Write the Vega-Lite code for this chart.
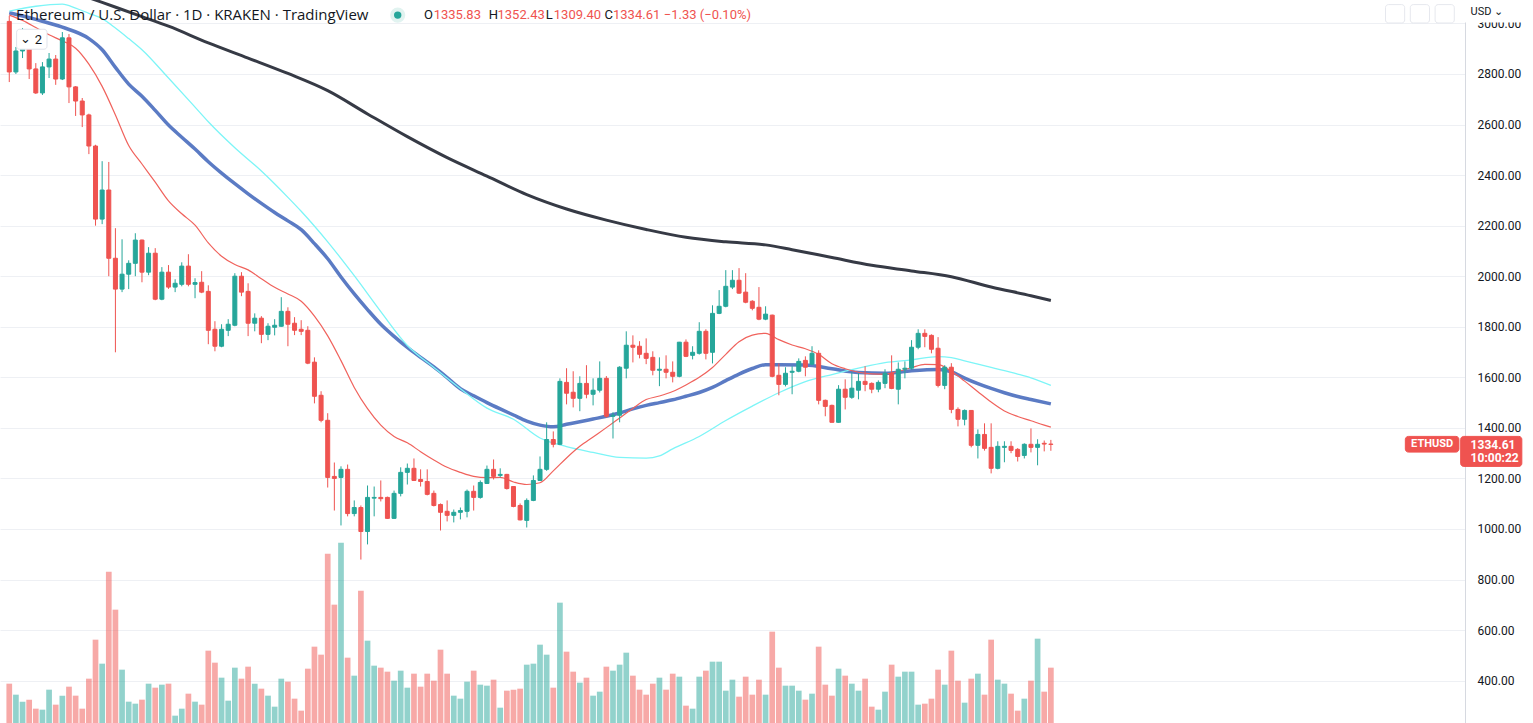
{
"$schema":"https://vega.github.io/schema/vega-lite/v6.json",
"width":1465,"height":723,
"autosize":{"type":"none"},
"padding":{"left":0,"top":0,"right":68,"bottom":0},
"background":"#ffffff",
"config":{"view":{"stroke":null},"text":{"font":"Roboto"}},
"datasets":{
"candles":[
{"d":"2022-04-26","o":3008,"h":3030,"l":2768,"c":2808,"v":11800},
{"d":"2022-04-27","o":2808,"h":2907,"l":2800,"c":2891,"v":8500},
{"d":"2022-04-28","o":2891,"h":2982,"l":2863,"c":2939,"v":6400},
{"d":"2022-04-29","o":2939,"h":2945,"l":2780,"c":2820,"v":7000},
{"d":"2022-04-30","o":2820,"h":2843,"l":2721,"c":2725,"v":4300},
{"d":"2022-05-01","o":2725,"h":2847,"l":2717,"c":2828,"v":4000},
{"d":"2022-05-02","o":2828,"h":2883,"l":2784,"c":2859,"v":10000},
{"d":"2022-05-03","o":2859,"h":2875,"l":2757,"c":2780,"v":5500},
{"d":"2022-05-04","o":2780,"h":2966,"l":2776,"c":2943,"v":8200},
{"d":"2022-05-05","o":2943,"h":2958,"l":2685,"c":2749,"v":10900},
{"d":"2022-05-06","o":2749,"h":2752,"l":2634,"c":2693,"v":8200},
{"d":"2022-05-07","o":2693,"h":2705,"l":2590,"c":2638,"v":4300},
{"d":"2022-05-08","o":2638,"h":2643,"l":2483,"c":2515,"v":13300},
{"d":"2022-05-09","o":2515,"h":2520,"l":2200,"c":2226,"v":25000},
{"d":"2022-05-10","o":2226,"h":2455,"l":2206,"c":2341,"v":17800},
{"d":"2022-05-11","o":2341,"h":2452,"l":2000,"c":2071,"v":45400},
{"d":"2022-05-12","o":2071,"h":2190,"l":1699,"c":1949,"v":34000},
{"d":"2022-05-13","o":1949,"h":2146,"l":1937,"c":2008,"v":16000},
{"d":"2022-05-14","o":2008,"h":2063,"l":1949,"c":2051,"v":6400},
{"d":"2022-05-15","o":2051,"h":2170,"l":2000,"c":2143,"v":5800},
{"d":"2022-05-16","o":2143,"h":2145,"l":1976,"c":2016,"v":7000},
{"d":"2022-05-17","o":2016,"h":2115,"l":2004,"c":2091,"v":11800},
{"d":"2022-05-18","o":2091,"h":2111,"l":1905,"c":1909,"v":10600},
{"d":"2022-05-19","o":1909,"h":2036,"l":1905,"c":2016,"v":11500},
{"d":"2022-05-20","o":2016,"h":2044,"l":1950,"c":1957,"v":11800},
{"d":"2022-05-21","o":1957,"h":1988,"l":1937,"c":1972,"v":2200},
{"d":"2022-05-22","o":1968,"h":2055,"l":1960,"c":2040,"v":4300},
{"d":"2022-05-23","o":2040,"h":2087,"l":1960,"c":1968,"v":8800},
{"d":"2022-05-24","o":1968,"h":1992,"l":1913,"c":1975,"v":6400},
{"d":"2022-05-25","o":1976,"h":2020,"l":1933,"c":1937,"v":5500},
{"d":"2022-05-26","o":1940,"h":1964,"l":1731,"c":1786,"v":21700},
{"d":"2022-05-27","o":1790,"h":1822,"l":1703,"c":1723,"v":18100},
{"d":"2022-05-28","o":1723,"h":1810,"l":1719,"c":1790,"v":13600},
{"d":"2022-05-29","o":1786,"h":1830,"l":1763,"c":1810,"v":6700},
{"d":"2022-05-30","o":1806,"h":2012,"l":1802,"c":2000,"v":16600},
{"d":"2022-05-31","o":2000,"h":2016,"l":1921,"c":1937,"v":13300},
{"d":"2022-06-01","o":1940,"h":1972,"l":1763,"c":1814,"v":16900},
{"d":"2022-06-02","o":1814,"h":1853,"l":1782,"c":1834,"v":11800},
{"d":"2022-06-03","o":1834,"h":1842,"l":1735,"c":1770,"v":10300},
{"d":"2022-06-04","o":1770,"h":1814,"l":1747,"c":1802,"v":8200},
{"d":"2022-06-05","o":1798,"h":1830,"l":1766,"c":1806,"v":4900},
{"d":"2022-06-06","o":1802,"h":1917,"l":1800,"c":1861,"v":13300},
{"d":"2022-06-07","o":1861,"h":1877,"l":1723,"c":1810,"v":12400},
{"d":"2022-06-08","o":1814,"h":1838,"l":1767,"c":1786,"v":7300},
{"d":"2022-06-09","o":1790,"h":1826,"l":1767,"c":1782,"v":3700},
{"d":"2022-06-10","o":1786,"h":1802,"l":1652,"c":1656,"v":16300},
{"d":"2022-06-11","o":1660,"h":1679,"l":1497,"c":1525,"v":22900},
{"d":"2022-06-12","o":1529,"h":1545,"l":1422,"c":1430,"v":20500},
{"d":"2022-06-13","o":1430,"h":1458,"l":1164,"c":1204,"v":50800},
{"d":"2022-06-14","o":1208,"h":1263,"l":1073,"c":1200,"v":35500},
{"d":"2022-06-15","o":1204,"h":1248,"l":1014,"c":1236,"v":54100},
{"d":"2022-06-16","o":1236,"h":1255,"l":1050,"c":1061,"v":19600},
{"d":"2022-06-17","o":1061,"h":1113,"l":1050,"c":1085,"v":14200},
{"d":"2022-06-18","o":1085,"h":1093,"l":879,"c":990,"v":39700},
{"d":"2022-06-19","o":990,"h":1172,"l":939,"c":1125,"v":24700},
{"d":"2022-06-20","o":1122,"h":1168,"l":1050,"c":1125,"v":17200},
{"d":"2022-06-21","o":1125,"h":1192,"l":1109,"c":1120,"v":16600},
{"d":"2022-06-22","o":1125,"h":1128,"l":1040,"c":1042,"v":15400},
{"d":"2022-06-23","o":1042,"h":1152,"l":1040,"c":1141,"v":12700},
{"d":"2022-06-24","o":1141,"h":1244,"l":1129,"c":1224,"v":15700},
{"d":"2022-06-25","o":1224,"h":1259,"l":1176,"c":1240,"v":10600},
{"d":"2022-06-26","o":1240,"h":1279,"l":1190,"c":1192,"v":14800},
{"d":"2022-06-27","o":1196,"h":1236,"l":1168,"c":1188,"v":10900},
{"d":"2022-06-28","o":1188,"h":1236,"l":1133,"c":1137,"v":14800},
{"d":"2022-06-29","o":1141,"h":1152,"l":1089,"c":1093,"v":12700},
{"d":"2022-06-30","o":1097,"h":1101,"l":994,"c":1066,"v":22000},
{"d":"2022-07-01","o":1070,"h":1113,"l":1030,"c":1054,"v":14800},
{"d":"2022-07-02","o":1054,"h":1077,"l":1026,"c":1066,"v":8200},
{"d":"2022-07-03","o":1066,"h":1085,"l":1038,"c":1073,"v":7300},
{"d":"2022-07-04","o":1070,"h":1156,"l":1046,"c":1149,"v":12400},
{"d":"2022-07-05","o":1149,"h":1172,"l":1073,"c":1125,"v":15700},
{"d":"2022-07-06","o":1125,"h":1192,"l":1120,"c":1184,"v":11500},
{"d":"2022-07-07","o":1180,"h":1251,"l":1178,"c":1236,"v":11200},
{"d":"2022-07-08","o":1236,"h":1275,"l":1196,"c":1208,"v":13000},
{"d":"2022-07-09","o":1212,"h":1240,"l":1204,"c":1216,"v":4600},
{"d":"2022-07-10","o":1216,"h":1218,"l":1156,"c":1160,"v":9700},
{"d":"2022-07-11","o":1168,"h":1170,"l":1086,"c":1089,"v":10000},
{"d":"2022-07-12","o":1093,"h":1101,"l":1034,"c":1036,"v":10300},
{"d":"2022-07-13","o":1034,"h":1121,"l":1006,"c":1113,"v":17500},
{"d":"2022-07-14","o":1113,"h":1212,"l":1110,"c":1192,"v":17800},
{"d":"2022-07-15","o":1192,"h":1287,"l":1190,"c":1236,"v":23500},
{"d":"2022-07-16","o":1236,"h":1422,"l":1230,"c":1354,"v":20500},
{"d":"2022-07-17","o":1354,"h":1386,"l":1323,"c":1335,"v":10600},
{"d":"2022-07-18","o":1335,"h":1596,"l":1332,"c":1584,"v":36100},
{"d":"2022-07-19","o":1580,"h":1636,"l":1493,"c":1537,"v":21400},
{"d":"2022-07-20","o":1541,"h":1624,"l":1481,"c":1517,"v":15400},
{"d":"2022-07-21","o":1517,"h":1604,"l":1466,"c":1576,"v":12100},
{"d":"2022-07-22","o":1576,"h":1648,"l":1517,"c":1533,"v":13600},
{"d":"2022-07-23","o":1533,"h":1596,"l":1489,"c":1549,"v":8200},
{"d":"2022-07-24","o":1549,"h":1663,"l":1540,"c":1596,"v":9400},
{"d":"2022-07-25","o":1596,"h":1605,"l":1440,"c":1446,"v":16900},
{"d":"2022-07-26","o":1446,"h":1462,"l":1358,"c":1450,"v":15700},
{"d":"2022-07-27","o":1450,"h":1644,"l":1422,"c":1640,"v":17500},
{"d":"2022-07-28","o":1636,"h":1782,"l":1596,"c":1727,"v":21100},
{"d":"2022-07-29","o":1727,"h":1766,"l":1659,"c":1719,"v":14200},
{"d":"2022-07-30","o":1723,"h":1743,"l":1675,"c":1691,"v":10000},
{"d":"2022-07-31","o":1695,"h":1754,"l":1652,"c":1675,"v":8500},
{"d":"2022-08-01","o":1679,"h":1703,"l":1608,"c":1628,"v":11800},
{"d":"2022-08-02","o":1628,"h":1679,"l":1565,"c":1632,"v":13600},
{"d":"2022-08-03","o":1632,"h":1687,"l":1596,"c":1620,"v":10000},
{"d":"2022-08-04","o":1620,"h":1663,"l":1580,"c":1604,"v":14800},
{"d":"2022-08-05","o":1604,"h":1740,"l":1600,"c":1739,"v":13900},
{"d":"2022-08-06","o":1739,"h":1750,"l":1680,"c":1683,"v":5200},
{"d":"2022-08-07","o":1687,"h":1723,"l":1671,"c":1699,"v":4300},
{"d":"2022-08-08","o":1695,"h":1818,"l":1690,"c":1782,"v":13900},
{"d":"2022-08-09","o":1782,"h":1790,"l":1671,"c":1695,"v":15700},
{"d":"2022-08-10","o":1699,"h":1885,"l":1655,"c":1853,"v":18400},
{"d":"2022-08-11","o":1853,"h":1945,"l":1850,"c":1881,"v":18400},
{"d":"2022-08-12","o":1881,"h":2024,"l":1877,"c":1960,"v":9700},
{"d":"2022-08-13","o":1957,"h":2024,"l":1949,"c":1984,"v":13000},
{"d":"2022-08-14","o":1984,"h":2032,"l":1930,"c":1933,"v":7900},
{"d":"2022-08-15","o":1937,"h":2012,"l":1893,"c":1897,"v":13900},
{"d":"2022-08-16","o":1901,"h":1905,"l":1865,"c":1873,"v":8500},
{"d":"2022-08-17","o":1877,"h":1957,"l":1826,"c":1830,"v":13000},
{"d":"2022-08-18","o":1830,"h":1881,"l":1826,"c":1850,"v":8500},
{"d":"2022-08-19","o":1846,"h":1848,"l":1600,"c":1604,"v":27400},
{"d":"2022-08-20","o":1608,"h":1655,"l":1529,"c":1572,"v":16600},
{"d":"2022-08-21","o":1572,"h":1640,"l":1564,"c":1616,"v":11200},
{"d":"2022-08-22","o":1620,"h":1644,"l":1533,"c":1624,"v":11200},
{"d":"2022-08-23","o":1624,"h":1675,"l":1620,"c":1663,"v":9700},
{"d":"2022-08-24","o":1667,"h":1683,"l":1604,"c":1640,"v":7000},
{"d":"2022-08-25","o":1652,"h":1723,"l":1648,"c":1695,"v":8800},
{"d":"2022-08-26","o":1695,"h":1707,"l":1493,"c":1509,"v":22900},
{"d":"2022-08-27","o":1509,"h":1512,"l":1446,"c":1485,"v":11500},
{"d":"2022-08-28","o":1489,"h":1492,"l":1422,"c":1422,"v":8200},
{"d":"2022-08-29","o":1422,"h":1569,"l":1420,"c":1553,"v":16300},
{"d":"2022-08-30","o":1553,"h":1592,"l":1473,"c":1521,"v":14200},
{"d":"2022-08-31","o":1521,"h":1620,"l":1515,"c":1557,"v":11800},
{"d":"2022-09-01","o":1549,"h":1616,"l":1513,"c":1584,"v":9700},
{"d":"2022-09-02","o":1584,"h":1644,"l":1545,"c":1572,"v":13300},
{"d":"2022-09-03","o":1576,"h":1580,"l":1537,"c":1553,"v":4900},
{"d":"2022-09-04","o":1553,"h":1588,"l":1541,"c":1580,"v":4000},
{"d":"2022-09-05","o":1576,"h":1632,"l":1557,"c":1616,"v":9400},
{"d":"2022-09-06","o":1616,"h":1687,"l":1553,"c":1556,"v":17500},
{"d":"2022-09-07","o":1553,"h":1659,"l":1493,"c":1632,"v":13900},
{"d":"2022-09-08","o":1632,"h":1663,"l":1596,"c":1636,"v":15400},
{"d":"2022-09-09","o":1636,"h":1747,"l":1630,"c":1719,"v":15400},
{"d":"2022-09-10","o":1719,"h":1790,"l":1711,"c":1774,"v":5500},
{"d":"2022-09-11","o":1774,"h":1790,"l":1719,"c":1762,"v":5800},
{"d":"2022-09-12","o":1766,"h":1770,"l":1695,"c":1711,"v":7300},
{"d":"2022-09-13","o":1715,"h":1759,"l":1560,"c":1568,"v":16000},
{"d":"2022-09-14","o":1568,"h":1648,"l":1553,"c":1640,"v":11500},
{"d":"2022-09-15","o":1640,"h":1656,"l":1458,"c":1473,"v":21700},
{"d":"2022-09-16","o":1473,"h":1481,"l":1406,"c":1434,"v":12700},
{"d":"2022-09-17","o":1434,"h":1473,"l":1410,"c":1469,"v":6100},
{"d":"2022-09-18","o":1469,"h":1470,"l":1323,"c":1331,"v":13300},
{"d":"2022-09-19","o":1331,"h":1394,"l":1279,"c":1374,"v":14800},
{"d":"2022-09-20","o":1374,"h":1418,"l":1310,"c":1319,"v":8500},
{"d":"2022-09-21","o":1323,"h":1418,"l":1220,"c":1240,"v":25000},
{"d":"2022-09-22","o":1240,"h":1347,"l":1236,"c":1327,"v":13000},
{"d":"2022-09-23","o":1323,"h":1347,"l":1264,"c":1327,"v":11800},
{"d":"2022-09-24","o":1327,"h":1347,"l":1300,"c":1311,"v":8800},
{"d":"2022-09-25","o":1315,"h":1320,"l":1267,"c":1287,"v":3700},
{"d":"2022-09-26","o":1291,"h":1339,"l":1279,"c":1335,"v":7300},
{"d":"2022-09-27","o":1335,"h":1398,"l":1303,"c":1323,"v":12700},
{"d":"2022-09-28","o":1323,"h":1355,"l":1252,"c":1335,"v":25300},
{"d":"2022-09-29","o":1339,"h":1350,"l":1307,"c":1336,"v":9400},
{"d":"2022-09-30","o":1335.83,"h":1352.43,"l":1309.40,"c":1334.61,"v":16600}
],
"ma200":[
{"d":"2022-04-26","p":3211},{"d":"2022-05-04","p":3139},{"d":"2022-05-10","p":3083},{"d":"2022-05-16","p":3027},{"d":"2022-05-20","p":2989},{"d":"2022-05-26","p":2923},{"d":"2022-06-01","p":2863},{"d":"2022-06-07","p":2802},{"d":"2022-06-13","p":2734},{"d":"2022-06-19","p":2642},{"d":"2022-06-25","p":2552},{"d":"2022-07-01","p":2469},{"d":"2022-07-07","p":2396},{"d":"2022-07-13","p":2323},{"d":"2022-07-19","p":2266},{"d":"2022-07-25","p":2222},{"d":"2022-07-31","p":2185},{"d":"2022-08-06","p":2154},{"d":"2022-08-12","p":2136},{"d":"2022-08-18","p":2124},{"d":"2022-08-22","p":2105},{"d":"2022-08-28","p":2074},{"d":"2022-09-03","p":2043},{"d":"2022-09-09","p":2021},{"d":"2022-09-15","p":1998},{"d":"2022-09-21","p":1957},{"d":"2022-09-27","p":1923},{"d":"2022-09-30","p":1904}
],
"ma50":[
{"d":"2022-04-26","p":3042},{"d":"2022-04-30","p":3016},{"d":"2022-05-04","p":2985},{"d":"2022-05-08","p":2940},{"d":"2022-05-10","p":2896},{"d":"2022-05-12","p":2826},{"d":"2022-05-14","p":2760},{"d":"2022-05-16","p":2712},{"d":"2022-05-18","p":2656},{"d":"2022-05-20","p":2598},{"d":"2022-05-22","p":2550},{"d":"2022-05-24","p":2503},{"d":"2022-05-26","p":2453},{"d":"2022-05-28","p":2408},{"d":"2022-05-30","p":2366},{"d":"2022-06-01","p":2326},{"d":"2022-06-03","p":2288},{"d":"2022-06-05","p":2252},{"d":"2022-06-07","p":2219},{"d":"2022-06-09","p":2184},{"d":"2022-06-11","p":2129},{"d":"2022-06-13","p":2069},{"d":"2022-06-15","p":1997},{"d":"2022-06-17","p":1930},{"d":"2022-06-19","p":1868},{"d":"2022-06-21","p":1810},{"d":"2022-06-23","p":1762},{"d":"2022-06-25","p":1718},{"d":"2022-06-27","p":1679},{"d":"2022-06-29","p":1641},{"d":"2022-07-01","p":1599},{"d":"2022-07-03","p":1555},{"d":"2022-07-05","p":1527},{"d":"2022-07-07","p":1500},{"d":"2022-07-09","p":1475},{"d":"2022-07-11","p":1451},{"d":"2022-07-13","p":1427},{"d":"2022-07-15","p":1411},{"d":"2022-07-17","p":1404},{"d":"2022-07-19","p":1414},{"d":"2022-07-21","p":1424},{"d":"2022-07-23","p":1435},{"d":"2022-07-25","p":1446},{"d":"2022-07-27","p":1459},{"d":"2022-07-29","p":1475},{"d":"2022-07-31","p":1489},{"d":"2022-08-02","p":1500},{"d":"2022-08-04","p":1511},{"d":"2022-08-06","p":1525},{"d":"2022-08-08","p":1540},{"d":"2022-08-10","p":1560},{"d":"2022-08-12","p":1587},{"d":"2022-08-14","p":1613},{"d":"2022-08-16","p":1635},{"d":"2022-08-18","p":1650},{"d":"2022-08-20","p":1650},{"d":"2022-08-24","p":1649},{"d":"2022-08-28","p":1634},{"d":"2022-09-01","p":1619},{"d":"2022-09-05","p":1616},{"d":"2022-09-09","p":1626},{"d":"2022-09-13","p":1631},{"d":"2022-09-15","p":1622},{"d":"2022-09-17","p":1597},{"d":"2022-09-19","p":1575},{"d":"2022-09-21","p":1556},{"d":"2022-09-23","p":1539},{"d":"2022-09-25","p":1524},{"d":"2022-09-27","p":1512},{"d":"2022-09-30","p":1495}
],
"ema":[
{"d":"2022-04-26","p":3049},{"d":"2022-04-30","p":3068},{"d":"2022-05-04","p":3076},{"d":"2022-05-06","p":3061},{"d":"2022-05-08","p":3040},{"d":"2022-05-10","p":3019},{"d":"2022-05-12","p":2982},{"d":"2022-05-14","p":2940},{"d":"2022-05-16","p":2896},{"d":"2022-05-20","p":2784},{"d":"2022-05-24","p":2669},{"d":"2022-05-26","p":2611},{"d":"2022-05-30","p":2508},{"d":"2022-06-03","p":2416},{"d":"2022-06-07","p":2312},{"d":"2022-06-09","p":2257},{"d":"2022-06-13","p":2136},{"d":"2022-06-17","p":2002},{"d":"2022-06-21","p":1860},{"d":"2022-06-25","p":1726},{"d":"2022-06-29","p":1639},{"d":"2022-07-03","p":1555},{"d":"2022-07-07","p":1478},{"d":"2022-07-11","p":1434},{"d":"2022-07-15","p":1360},{"d":"2022-07-19","p":1326},{"d":"2022-07-23","p":1303},{"d":"2022-07-27","p":1283},{"d":"2022-07-31","p":1280},{"d":"2022-08-02","p":1289},{"d":"2022-08-04","p":1317},{"d":"2022-08-08","p":1366},{"d":"2022-08-12","p":1429},{"d":"2022-08-16","p":1486},{"d":"2022-08-20","p":1539},{"d":"2022-08-24","p":1583},{"d":"2022-08-28","p":1611},{"d":"2022-09-01","p":1636},{"d":"2022-09-05","p":1658},{"d":"2022-09-09","p":1669},{"d":"2022-09-13","p":1682},{"d":"2022-09-15","p":1678},{"d":"2022-09-17","p":1665},{"d":"2022-09-21","p":1639},{"d":"2022-09-25","p":1613},{"d":"2022-09-27","p":1598},{"d":"2022-09-30","p":1568}
],
"ma20":[
{"d":"2022-04-26","p":3033},{"d":"2022-04-28","p":3012},{"d":"2022-04-30","p":2984},{"d":"2022-05-02","p":2955},{"d":"2022-05-04","p":2931},{"d":"2022-05-06","p":2902},{"d":"2022-05-08","p":2839},{"d":"2022-05-10","p":2751},{"d":"2022-05-12","p":2638},{"d":"2022-05-14","p":2517},{"d":"2022-05-16","p":2444},{"d":"2022-05-18","p":2372},{"d":"2022-05-20","p":2298},{"d":"2022-05-22","p":2247},{"d":"2022-05-24","p":2202},{"d":"2022-05-26","p":2132},{"d":"2022-05-28","p":2079},{"d":"2022-05-30","p":2046},{"d":"2022-06-01","p":2025},{"d":"2022-06-03","p":1990},{"d":"2022-06-05","p":1956},{"d":"2022-06-07","p":1930},{"d":"2022-06-09","p":1901},{"d":"2022-06-11","p":1842},{"d":"2022-06-13","p":1764},{"d":"2022-06-15","p":1666},{"d":"2022-06-17","p":1560},{"d":"2022-06-19","p":1476},{"d":"2022-06-21","p":1411},{"d":"2022-06-23","p":1366},{"d":"2022-06-25","p":1341},{"d":"2022-06-27","p":1306},{"d":"2022-06-29","p":1273},{"d":"2022-07-01","p":1244},{"d":"2022-07-03","p":1224},{"d":"2022-07-05","p":1208},{"d":"2022-07-07","p":1203},{"d":"2022-07-09","p":1204},{"d":"2022-07-11","p":1186},{"d":"2022-07-13","p":1176},{"d":"2022-07-15","p":1183},{"d":"2022-07-17","p":1230},{"d":"2022-07-19","p":1281},{"d":"2022-07-21","p":1327},{"d":"2022-07-23","p":1364},{"d":"2022-07-25","p":1401},{"d":"2022-07-27","p":1439},{"d":"2022-07-29","p":1477},{"d":"2022-07-31","p":1512},{"d":"2022-08-02","p":1526},{"d":"2022-08-04","p":1544},{"d":"2022-08-06","p":1570},{"d":"2022-08-08","p":1600},{"d":"2022-08-10","p":1639},{"d":"2022-08-12","p":1691},{"d":"2022-08-14","p":1741},{"d":"2022-08-16","p":1767},{"d":"2022-08-18","p":1774},{"d":"2022-08-20","p":1749},{"d":"2022-08-22","p":1728},{"d":"2022-08-24","p":1713},{"d":"2022-08-26","p":1691},{"d":"2022-08-28","p":1654},{"d":"2022-08-30","p":1634},{"d":"2022-09-01","p":1620},{"d":"2022-09-03","p":1614},{"d":"2022-09-05","p":1613},{"d":"2022-09-07","p":1624},{"d":"2022-09-09","p":1638},{"d":"2022-09-11","p":1651},{"d":"2022-09-13","p":1650},{"d":"2022-09-15","p":1624},{"d":"2022-09-17","p":1585},{"d":"2022-09-19","p":1543},{"d":"2022-09-21","p":1502},{"d":"2022-09-23","p":1467},{"d":"2022-09-25","p":1445},{"d":"2022-09-27","p":1428},{"d":"2022-09-29","p":1411},{"d":"2022-09-30","p":1403}
]
},
"layer":[
{
"data":{"name":"candles"},
"mark":{"type":"bar","width":5.7,"opacity":0.5},
"encoding":{
"x":{"field":"d","type":"temporal","title":null,
"scale":{"type":"utc","nice":false,"domain":[{"year":2022,"month":4,"date":25,"hours":8,"minutes":33,"utc":true},{"year":2022,"month":11,"date":30,"hours":16,"minutes":5,"utc":true}]},
"axis":{"values":[{"year":2022,"month":5,"date":1,"utc":true},{"year":2022,"month":5,"date":16,"utc":true},{"year":2022,"month":6,"date":1,"utc":true},{"year":2022,"month":6,"date":13,"utc":true},{"year":2022,"month":7,"date":1,"utc":true},{"year":2022,"month":7,"date":18,"utc":true},{"year":2022,"month":8,"date":1,"utc":true},{"year":2022,"month":8,"date":15,"utc":true},{"year":2022,"month":9,"date":1,"utc":true},{"year":2022,"month":9,"date":19,"utc":true},{"year":2022,"month":10,"date":1,"utc":true},{"year":2022,"month":10,"date":17,"utc":true},{"year":2022,"month":11,"date":1,"utc":true},{"year":2022,"month":11,"date":14,"utc":true}],
"labels":false,"ticks":false,"domain":false,"grid":true,"gridColor":"#eef0f4","gridWidth":1}},
"y":{"field":"v","type":"quantitative","scale":{"domain":[0,216900],"nice":false,"zero":true},"axis":null},
"color":{"condition":{"test":"datum.c < datum.o","value":"#ef5350"},"value":"#26a69a"}
}
},
{
"data":{"name":"ma200"},
"mark":{"type":"line","clip":true,"interpolate":"monotone","color":"#363a45","strokeWidth":3},
"encoding":{
"x":{"field":"d","type":"temporal","title":null,"axis":null,"scale":{"type":"utc","nice":false,"domain":[{"year":2022,"month":4,"date":25,"hours":8,"minutes":33,"utc":true},{"year":2022,"month":11,"date":30,"hours":16,"minutes":5,"utc":true}]}},
"y":{"field":"p","type":"quantitative","title":null,"scale":{"domain":[232.5,3092.7],"nice":false,"zero":false},
"axis":{"orient":"right","values":[400,600,800,1000,1200,1400,1600,1800,2000,2200,2400,2600,2800,3000],"format":".2f","grid":true,"gridColor":"#eef0f4","gridWidth":1,"ticks":false,"labelPadding":12,"labelFont":"Roboto","labelFontSize":12,"labelColor":"#131722","domainColor":"#d6d9e0","labelAlign":"left","labelBaseline":"middle","title":null}}
}
},
{
"data":{"name":"ma50"},
"mark":{"type":"line","clip":true,"interpolate":"monotone","color":"#5b7bc4","strokeWidth":3.5},
"encoding":{
"x":{"field":"d","type":"temporal","title":null,"axis":null,"scale":{"type":"utc","nice":false,"domain":[{"year":2022,"month":4,"date":25,"hours":8,"minutes":33,"utc":true},{"year":2022,"month":11,"date":30,"hours":16,"minutes":5,"utc":true}]}},
"y":{"field":"p","type":"quantitative","title":null,"axis":null,"scale":{"domain":[232.5,3092.7],"nice":false,"zero":false}}
}
},
{
"data":{"name":"ema"},
"mark":{"type":"line","clip":true,"interpolate":"monotone","color":"#7df5f7","strokeWidth":1.3},
"encoding":{
"x":{"field":"d","type":"temporal","title":null,"axis":null,"scale":{"type":"utc","nice":false,"domain":[{"year":2022,"month":4,"date":25,"hours":8,"minutes":33,"utc":true},{"year":2022,"month":11,"date":30,"hours":16,"minutes":5,"utc":true}]}},
"y":{"field":"p","type":"quantitative","title":null,"axis":null,"scale":{"domain":[232.5,3092.7],"nice":false,"zero":false}}
}
},
{
"data":{"name":"ma20"},
"mark":{"type":"line","clip":true,"interpolate":"monotone","color":"#f0625c","strokeWidth":1.2},
"encoding":{
"x":{"field":"d","type":"temporal","title":null,"axis":null,"scale":{"type":"utc","nice":false,"domain":[{"year":2022,"month":4,"date":25,"hours":8,"minutes":33,"utc":true},{"year":2022,"month":11,"date":30,"hours":16,"minutes":5,"utc":true}]}},
"y":{"field":"p","type":"quantitative","title":null,"axis":null,"scale":{"domain":[232.5,3092.7],"nice":false,"zero":false}}
}
},
{
"mark":{"type":"rule","color":"#ef5350","strokeDash":[1,2],"strokeWidth":1},
"encoding":{"y":{"datum":1334.61,"type":"quantitative","axis":null,"scale":{"domain":[232.5,3092.7],"nice":false,"zero":false}}}
},
{
"mark":{"type":"rule","color":"#dfe1e6","strokeWidth":2},
"encoding":{"x":{"datum":{"year":2022,"month":4,"date":25,"hours":8,"minutes":48,"utc":true},"type":"temporal","axis":null,"scale":{"type":"utc","nice":false,"domain":[{"year":2022,"month":4,"date":25,"hours":8,"minutes":33,"utc":true},{"year":2022,"month":11,"date":30,"hours":16,"minutes":5,"utc":true}]}}}
},
{
"data":{"name":"candles"},
"mark":{"type":"rule","strokeWidth":1},
"encoding":{
"x":{"field":"d","type":"temporal","title":null,"axis":null,"scale":{"type":"utc","nice":false,"domain":[{"year":2022,"month":4,"date":25,"hours":8,"minutes":33,"utc":true},{"year":2022,"month":11,"date":30,"hours":16,"minutes":5,"utc":true}]}},
"y":{"field":"l","type":"quantitative","title":null,"axis":null,"scale":{"domain":[232.5,3092.7],"nice":false,"zero":false}},
"y2":{"field":"h"},
"color":{"condition":{"test":"datum.c < datum.o","value":"#ef5350"},"value":"#26a69a"}
}
},
{
"data":{"name":"candles"},
"mark":{"type":"bar","width":4,"strokeWidth":1},
"encoding":{
"x":{"field":"d","type":"temporal","title":null,"axis":null,"scale":{"type":"utc","nice":false,"domain":[{"year":2022,"month":4,"date":25,"hours":8,"minutes":33,"utc":true},{"year":2022,"month":11,"date":30,"hours":16,"minutes":5,"utc":true}]}},
"y":{"field":"o","type":"quantitative","title":null,"axis":null,"scale":{"domain":[232.5,3092.7],"nice":false,"zero":false}},
"y2":{"field":"c"},
"fill":{"condition":{"test":"datum.c < datum.o","value":"#ef5350"},"value":"#26a69a"},
"stroke":{"condition":{"test":"datum.c < datum.o","value":"#ef5350"},"value":"#26a69a"}
}
},
{
"data":{"values":[
{"t":"2022-04-27T02:35:00Z","t2":"2022-05-01T16:32:00Z","p":2977,"p2":2898,"f":"#ffffff","s":"#e0e3eb"},
{"t":"2022-11-22T10:19:00Z","t2":"2022-11-30T12:14:00Z","p":1366.3,"p2":1304.2,"f":"#ef5350","s":"#ef5350"},
{"t":"2022-11-30T18:29:00Z","t2":"2022-12-09T23:46:00Z","p":1366.3,"p2":1247.6,"f":"#ef5350","s":"#ef5350"},
{"t":"2022-11-30T17:00:00Z","t2":"2022-12-12T00:00:00Z","p":3150,"p2":3005.7,"f":"#ffffff","s":"#ffffff"},
{"t":"2022-11-19T10:34:00Z","t2":"2022-11-22T07:55:00Z","p":3074.5,"p2":3001.8,"f":"#ffffff","s":"#e6e8ee"},
{"t":"2022-11-23T04:19:00Z","t2":"2022-11-26T01:41:00Z","p":3074.5,"p2":3001.8,"f":"#ffffff","s":"#e6e8ee"},
{"t":"2022-11-26T22:05:00Z","t2":"2022-11-29T19:26:00Z","p":3074.5,"p2":3001.8,"f":"#ffffff","s":"#e6e8ee"}
]},
"mark":{"type":"rect","cornerRadius":3,"strokeWidth":1,"clip":false},
"encoding":{
"x":{"field":"t","type":"temporal","title":null,"axis":null,"scale":{"type":"utc","nice":false,"domain":[{"year":2022,"month":4,"date":25,"hours":8,"minutes":33,"utc":true},{"year":2022,"month":11,"date":30,"hours":16,"minutes":5,"utc":true}]}},
"x2":{"field":"t2"},
"y":{"field":"p","type":"quantitative","title":null,"axis":null,"scale":{"domain":[232.5,3092.7],"nice":false,"zero":false}},
"y2":{"field":"p2"},
"fill":{"field":"f","type":"nominal","scale":null},
"stroke":{"field":"s","type":"nominal","scale":null}
}
},
{
"data":{"values":[
{"t":"2022-06-23T13:12:00Z","p":3033,"sz":230,"col":"#e1f3f0"},
{"t":"2022-06-23T13:12:00Z","p":3033,"sz":55,"col":"#26a69a"}
]},
"mark":{"type":"circle","opacity":1,"clip":false},
"encoding":{
"x":{"field":"t","type":"temporal","title":null,"axis":null,"scale":{"type":"utc","nice":false,"domain":[{"year":2022,"month":4,"date":25,"hours":8,"minutes":33,"utc":true},{"year":2022,"month":11,"date":30,"hours":16,"minutes":5,"utc":true}]}},
"y":{"field":"p","type":"quantitative","title":null,"axis":null,"scale":{"domain":[232.5,3092.7],"nice":false,"zero":false}},
"size":{"field":"sz","type":"quantitative","scale":null},
"color":{"field":"col","type":"nominal","scale":null}
}
},
{
"data":{"values":[
{"t":"2022-04-27T00:46:00Z","p":3033,"txt":"Ethereum / U.S. Dollar · 1D · KRAKEN · TradingView"}
]},
"mark":{"type":"text","baseline":"middle","align":"left","font":"Open Sans","fontSize":15,"color":"#131722","clip":false},
"encoding":{
"x":{"field":"t","type":"temporal","title":null,"axis":null,"scale":{"type":"utc","nice":false,"domain":[{"year":2022,"month":4,"date":25,"hours":8,"minutes":33,"utc":true},{"year":2022,"month":11,"date":30,"hours":16,"minutes":5,"utc":true}]}},
"y":{"field":"p","type":"quantitative","title":null,"axis":null,"scale":{"domain":[232.5,3092.7],"nice":false,"zero":false}},
"text":{"field":"txt"}
}
},
{
"data":{"values":[
{"t":"2022-06-27T12:14:00Z","p":3033,"txt":"O","col":"#131722","fs":13},
{"t":"2022-06-28T23:17:00Z","p":3033,"txt":"1335.83","col":"#ef5350","fs":13},
{"t":"2022-07-07T06:58:00Z","p":3033,"txt":"H","col":"#131722","fs":13},
{"t":"2022-07-08T14:10:00Z","p":3033,"txt":"1352.43","col":"#ef5350","fs":13},
{"t":"2022-07-15T20:24:00Z","p":3033,"txt":"L","col":"#131722","fs":13},
{"t":"2022-07-17T01:55:00Z","p":3033,"txt":"1309.40","col":"#ef5350","fs":13},
{"t":"2022-07-24T17:17:00Z","p":3033,"txt":"C","col":"#131722","fs":13},
{"t":"2022-07-26T00:00:00Z","p":3033,"txt":"1334.61","col":"#ef5350","fs":13},
{"t":"2022-08-02T15:36:00Z","p":3033,"txt":"−1.33 (−0.10%)","col":"#ef5350","fs":13},
{"t":"2022-12-02T06:29:00Z","p":3044,"txt":"USD ⌄","col":"#131722","fs":11}
]},
"mark":{"type":"text","baseline":"middle","align":"left","font":"Roboto","clip":false},
"encoding":{
"x":{"field":"t","type":"temporal","title":null,"axis":null,"scale":{"type":"utc","nice":false,"domain":[{"year":2022,"month":4,"date":25,"hours":8,"minutes":33,"utc":true},{"year":2022,"month":11,"date":30,"hours":16,"minutes":5,"utc":true}]}},
"y":{"field":"p","type":"quantitative","title":null,"axis":null,"scale":{"domain":[232.5,3092.7],"nice":false,"zero":false}},
"text":{"field":"txt"},
"color":{"field":"col","type":"nominal","scale":null},
"size":{"field":"fs","type":"quantitative","scale":null}
}
},
{
"data":{"values":[
{"t":"2022-04-28T12:00:00Z","p":2940,"txt":"⌄"},
{"t":"2022-04-30T09:36:00Z","p":2936,"txt":"2"}
]},
"mark":{"type":"text","baseline":"middle","align":"center","font":"Roboto","fontSize":13,"color":"#131722","clip":false},
"encoding":{
"x":{"field":"t","type":"temporal","title":null,"axis":null,"scale":{"type":"utc","nice":false,"domain":[{"year":2022,"month":4,"date":25,"hours":8,"minutes":33,"utc":true},{"year":2022,"month":11,"date":30,"hours":16,"minutes":5,"utc":true}]}},
"y":{"field":"p","type":"quantitative","title":null,"axis":null,"scale":{"domain":[232.5,3092.7],"nice":false,"zero":false}},
"text":{"field":"txt"}
}
},
{
"data":{"values":[
{"t":"2022-11-26T11:17:00Z","p":1335,"txt":"ETHUSD"}
]},
"mark":{"type":"text","baseline":"middle","align":"center","font":"Roboto","fontSize":11,"fontWeight":"bold","color":"#ffffff","clip":false},
"encoding":{
"x":{"field":"t","type":"temporal","title":null,"axis":null,"scale":{"type":"utc","nice":false,"domain":[{"year":2022,"month":4,"date":25,"hours":8,"minutes":33,"utc":true},{"year":2022,"month":11,"date":30,"hours":16,"minutes":5,"utc":true}]}},
"y":{"field":"p","type":"quantitative","title":null,"axis":null,"scale":{"domain":[232.5,3092.7],"nice":false,"zero":false}},
"text":{"field":"txt"}
}
},
{
"data":{"values":[
{"t":"2022-12-02T06:29:00Z","p":1334,"txt":"1334.61"},
{"t":"2022-12-02T06:29:00Z","p":1279,"txt":"10:00:22"}
]},
"mark":{"type":"text","baseline":"middle","align":"left","font":"Roboto","fontSize":12,"fontWeight":"bold","color":"#ffffff","clip":false},
"encoding":{
"x":{"field":"t","type":"temporal","title":null,"axis":null,"scale":{"type":"utc","nice":false,"domain":[{"year":2022,"month":4,"date":25,"hours":8,"minutes":33,"utc":true},{"year":2022,"month":11,"date":30,"hours":16,"minutes":5,"utc":true}]}},
"y":{"field":"p","type":"quantitative","title":null,"axis":null,"scale":{"domain":[232.5,3092.7],"nice":false,"zero":false}},
"text":{"field":"txt"}
}
}
],
"resolve":{"scale":{"y":"independent"}}
}
